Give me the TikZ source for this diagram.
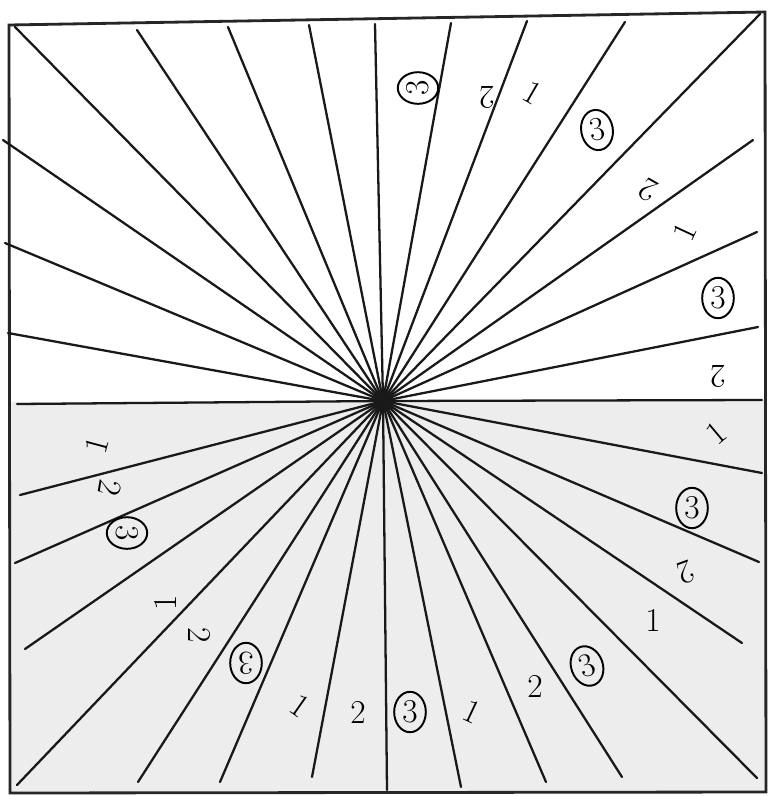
\documentclass[tikz,border=0pt]{standalone}
\usepackage{tikz}
\usetikzlibrary{shapes.geometric}
\begin{document}
\begin{tikzpicture}[
    x=0.02cm, y=-0.02cm,
    frame/.style={line width=1.6pt, black!85},
    ray/.style={line width=1.3pt, black!90, line cap=round},
    num/.style={font=\fontsize{19}{19}\selectfont, inner sep=1pt},
    ring/.style={num, ellipse, draw, line width=1.1pt, inner sep=1pt, minimum width=18pt, minimum height=23pt}
]
\useasboundingbox (0,0) rectangle (769,796);
\fill[black!7] (10,402) -- (766,400) -- (766,792) -- (10,793) -- cycle;
\draw[frame] (9,25) -- (765,12) -- (766,792) -- (10,793) -- cycle;
\coordinate (c) at (383,401);
\foreach \px/\py [count=\k] in {
    15/27, 137/30, 228/27, 309/25, 375/24, 451/23, 527/21, 625/22,
    760/14, 753/140, 757/232, 758/327, 762/400, 762/473, 759/562, 742/643,
    757/778, 622/777, 546/782, 461/787, 387/790, 312/777, 220/782, 138/782,
    17/785, 25/649, 15/563, 20/495, 17/404, 8/333, 5/243, 3/140}
{
    \coordinate (e\k) at (\px,\py);
    \draw[ray] (c) -- (e\k);
}
\foreach \px/\py/\t/\r [count=\k] in {
    418/88/3/90, 487/98/2/180, 533/93/1/-30, 597/130/3/10,
    648/190/2/150, 685/232/1/65, 718/298/3/0, 718/377/2/180,
    716/433/1/40, 692/508/3/0, 686/572/2/200, 653/620/1/0,
    587/666/3/20, 535/686/2/0, 472/712/1/-25, 410/712/3/0,
    358/712/2/0, 300/706/1/-35, 246/663/3/180, 200/635/2/-90,
    165/603/1/90, 127/533/3/-90, 110/488/2/-100, 97/445/1/75}
{
    \ifnum\t=3
        \node[ring, rotate=\r] (lab\k) at (\px,\py) {3};
    \else
        \node[num, rotate=\r] (lab\k) at (\px,\py) {\t};
    \fi
}
\end{tikzpicture}
\end{document}
